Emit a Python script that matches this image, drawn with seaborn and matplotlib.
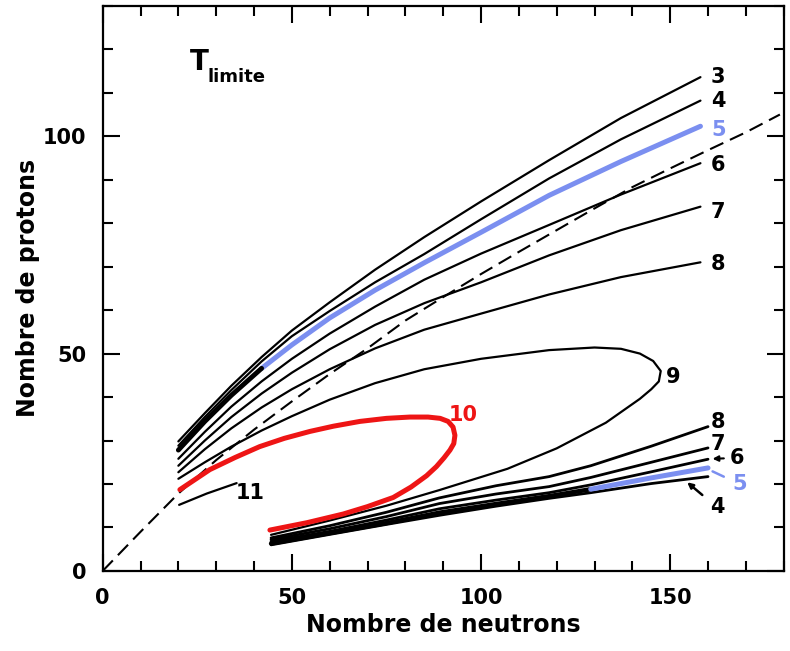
import matplotlib
matplotlib.use("Agg")
import matplotlib.pyplot as plt
from matplotlib.ticker import MultipleLocator
import seaborn as sns
import pandas as pd

# neutron grid for the upper branches (T = 3..8 MeV)
upper_n = [20, 27, 34, 42, 50, 60, 72, 85, 100, 118, 137, 158]
z3_up = [29.8, 36.3, 42.6, 49.2, 55.3, 61.8, 69.3, 76.8, 85.0, 94.5, 104.2, 113.6]
z4_up = [28.8, 35.4, 41.6, 48.2, 54.0, 59.8, 66.4, 72.9, 80.9, 90.3, 99.3, 108.2]
z5_up = [27.8, 34.4, 40.4, 46.6, 52.0, 58.2, 64.6, 70.9, 77.9, 86.4, 94.2, 102.3]
z6_up = [25.8, 32.0, 37.8, 43.6, 48.8, 54.6, 60.8, 67.0, 73.0, 79.6, 86.6, 93.8]
z7_up = [24.2, 30.0, 35.4, 40.8, 45.6, 51.0, 56.6, 61.6, 66.4, 72.6, 78.4, 83.8]
z8_up = [22.7, 28.0, 32.8, 37.6, 41.8, 46.4, 51.2, 55.5, 59.2, 63.6, 67.6, 71.0]

# lower branches
lower_n = [44.5, 60, 75, 89, 104, 118, 129, 145, 160]
z4_low = [6.0, 8.4, 10.7, 12.8, 14.9, 16.7, 18.0, 20.1, 21.7]
z5_low = [6.3, 8.7, 11.0, 13.4, 15.4, 17.2, 18.8, 21.4, 23.7]
z6_low = [6.8, 9.1, 11.7, 14.3, 16.3, 18.0, 19.8, 22.8, 25.7]
z7_low = [7.2, 9.7, 12.5, 15.5, 17.7, 19.4, 21.5, 25.0, 28.3]
z8_low = [7.6, 10.4, 13.5, 16.8, 19.6, 21.7, 24.2, 28.7, 33.2]

# loops T = 9 and T = 10, open curve T = 11
n9 = [20, 27, 34, 42, 50, 60, 72, 85, 100, 118, 130, 137, 142, 145.5, 147.5,
      147, 145, 142, 133, 120, 107, 89, 75, 60, 44.5]
z9 = [21.2, 25.0, 28.6, 32.3, 35.6, 39.4, 43.2, 46.4, 48.8, 50.8, 51.4, 51.1, 50.0, 48.3, 46.0,
      43.6, 41.8, 39.6, 34.1, 28.2, 23.5, 18.6, 15.0, 11.6, 8.3]
n10 = [20.4, 28.3, 35, 41.5, 48, 54.8, 61, 68, 75, 81.2, 86, 89.2, 91.3, 92.6, 93.1, 92.8, 91.8,
       90.2, 88.2, 85.6, 81.5, 76.8, 70, 63.6, 54, 44.2]
z10 = [18.7, 23.3, 26.1, 28.6, 30.5, 32.1, 33.3, 34.4, 35.1, 35.4, 35.4, 35.1, 34.4, 33.1, 31.2,
       29.3, 27.8, 26.0, 24.0, 21.9, 19.3, 16.9, 14.8, 13.1, 11.1, 9.4]
n11 = [20.2, 27.5, 35.4]
z11 = [15.2, 17.8, 20.2]

# valley of stability (dashed)
stab_n = [0, 10, 20, 30, 40, 50, 60, 70, 80, 90, 100, 110, 120, 130, 140, 150, 160, 170, 179]
stab_z = [0, 9, 17.8, 25.5, 32.5, 39, 45.3, 51.2, 57.6, 63, 68.3, 73.4, 78.4, 83.4, 88.3, 92.6, 96.8, 100.9, 105]

BLUE = '#7b8ff0'
RED = '#ee1515'


def line(ax, n, z, **kw):
    df = pd.DataFrame({'n': n, 'z': z})
    sns.lineplot(data=df, x='n', y='z', sort=False, estimator=None, ax=ax, **kw)


def draw_figure():
    sns.set_style('ticks')
    plt.rcParams['font.family'] = ['DejaVu Sans']
    plt.rcParams['font.weight'] = 'bold'
    plt.rcParams['text.color'] = 'black'
    plt.rcParams['axes.labelcolor'] = 'black'
    plt.rcParams['axes.edgecolor'] = 'black'
    plt.rcParams['xtick.color'] = 'black'
    plt.rcParams['ytick.color'] = 'black'

    fig, ax = plt.subplots(figsize=(7.9, 6.51), dpi=100)
    fig.subplots_adjust(left=0.130, right=0.992, top=0.991, bottom=0.123)

    line(ax, stab_n, stab_z, color='k', lw=1.5, linestyle=(0, (7, 3.5)))

    for z in [z3_up, z4_up, z6_up, z7_up, z8_up]:
        line(ax, upper_n, z, color='k', lw=1.6)
    line(ax, upper_n[3:], z5_up[3:], color=BLUE, lw=3.6)
    line(ax, upper_n[:4], z5_up[:4], color='k', lw=3.5)

    for z in [z4_low, z6_low, z7_low, z8_low]:
        line(ax, lower_n, z, color='k', lw=2.0)
    line(ax, lower_n[:7], z5_low[:7], color='k', lw=3.2)
    line(ax, lower_n[6:], z5_low[6:], color=BLUE, lw=3.6)

    line(ax, n9, z9, color='k', lw=1.6)
    line(ax, n10, z10, color=RED, lw=3.6)
    line(ax, n11, z11, color='k', lw=1.6)

    fs = 15
    for txt, x, y in [('3', 162.7, 113.6), ('4', 162.7, 108.0), ('6', 162.7, 93.5),
                      ('7', 162.7, 82.5), ('8', 162.7, 70.5), ('9', 150.8, 44.5),
                      ('8', 162.7, 34.3), ('7', 162.7, 29.2), ('11', 39.0, 18.0)]:
        ax.text(x, y, txt, fontsize=fs, ha='center', va='center')
    ax.text(162.7, 101.5, '5', fontsize=fs, ha='center', va='center', color=BLUE)
    ax.text(95.3, 35.8, '10', fontsize=fs, ha='center', va='center', color=RED)

    ax.annotate('6', xy=(161.2, 25.8), xytext=(167.7, 26.0), fontsize=fs, ha='center', va='center',
                arrowprops=dict(arrowstyle='-|>', color='k', lw=1.5, mutation_scale=8, shrinkA=2, shrinkB=0))
    ax.annotate('5', xy=(161.2, 22.9), xytext=(168.3, 20.0), fontsize=fs, ha='center', va='center',
                color=BLUE, arrowprops=dict(arrowstyle='-', color=BLUE, lw=1.8, shrinkA=4, shrinkB=0))
    ax.annotate('4', xy=(154.5, 20.4), xytext=(162.4, 14.6), fontsize=fs, ha='center', va='center',
                arrowprops=dict(arrowstyle='-|>', color='k', lw=1.8, mutation_scale=8, shrinkA=4, shrinkB=0))

    ax.text(23, 117, 'T', fontsize=20, ha='left', va='center')
    ax.text(27.6, 113.6, 'limite', fontsize=13, ha='left', va='center')

    ax.set_xlim(0, 180)
    ax.set_ylim(0, 130)
    ax.xaxis.set_major_locator(MultipleLocator(50))
    ax.xaxis.set_minor_locator(MultipleLocator(10))
    ax.yaxis.set_major_locator(MultipleLocator(50))
    ax.yaxis.set_minor_locator(MultipleLocator(10))
    ax.tick_params(which='both', direction='in', top=True, right=True, width=1.5, labelsize=15, pad=12)
    ax.tick_params(which='major', length=12)
    ax.tick_params(which='minor', length=7.5)
    for s in ax.spines.values():
        s.set_linewidth(1.6)

    ax.set_xlabel('Nombre de neutrons', fontsize=17, fontweight='bold', labelpad=4)
    ax.set_ylabel('Nombre de protons', fontsize=17, fontweight='bold', labelpad=2)

    fig.savefig('out.png', dpi=100, facecolor='white')
    plt.close(fig)


draw_figure()
